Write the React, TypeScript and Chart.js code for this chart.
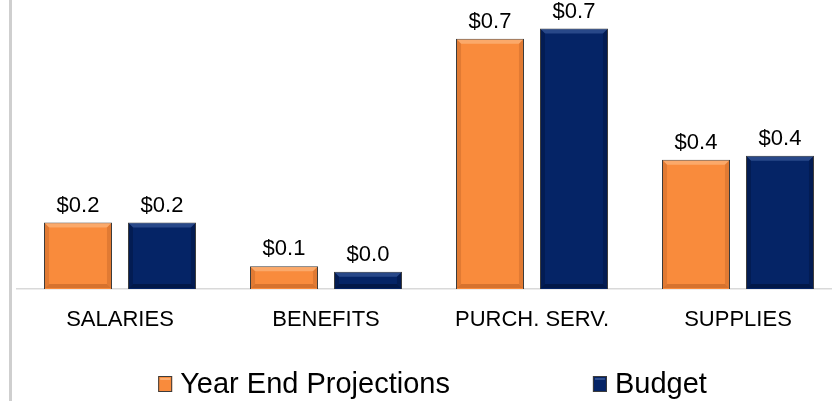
import { useEffect, useRef } from "react";
import { Chart, registerables } from "chart.js";

Chart.register(...registerables);

const categories = ["SALARIES", "BENEFITS", "PURCH. SERV.", "SUPPLIES"];
const yearEndProjections = [0.184, 0.063, 0.693, 0.358];
const budget = [0.184, 0.048, 0.721, 0.369];
const seriesNames = ["Year End Projections", "Budget"];
const seriesColors = ["#F98B3C", "#052466"];
const bevelLight = ["#FCAE72", "#2F4F8F"];
const bevelDark = ["#C9692A", "#02143F"];

const FONT = '"Liberation Sans", Arial, sans-serif';

export default function App() {
  const canvasRef = useRef<HTMLCanvasElement | null>(null);

  useEffect(() => {
    const canvas = canvasRef.current;
    if (!canvas) return;

    const framePlugin = {
      id: "frame",
      beforeDraw(chart: any) {
        const ctx = chart.ctx;
        ctx.save();
        ctx.fillStyle = "#ffffff";
        ctx.fillRect(0, 0, chart.width, chart.height);
        ctx.fillStyle = "#cfcfcf";
        ctx.fillRect(9, 0, 3, chart.height);
        ctx.restore();
      },
    };

    const bevelPlugin = {
      id: "bevel",
      afterDatasetsDraw(chart: any) {
        const ctx = chart.ctx;
        ctx.save();
        chart.data.datasets.forEach((ds: any, i: number) => {
          const meta = chart.getDatasetMeta(i);
          meta.data.forEach((bar: any) => {
            const p = bar.getProps(["x", "y", "base", "width"], true);
            const l = p.x - p.width / 2 + 1;
            const r = p.x + p.width / 2 - 1;
            const t = p.y + 1;
            const b = p.base - 1;
            const h = b - t;
            const bw = Math.min(4, h / 3);
            ctx.fillStyle = bevelLight[i];
            ctx.globalAlpha = 0.85;
            ctx.beginPath();
            ctx.moveTo(l, t);
            ctx.lineTo(r, t);
            ctx.lineTo(r - bw, t + bw);
            ctx.lineTo(l + bw, t + bw);
            ctx.closePath();
            ctx.fill();
            ctx.fillStyle = bevelDark[i];
            ctx.globalAlpha = 0.5;
            ctx.beginPath();
            ctx.moveTo(l, t);
            ctx.lineTo(l + bw, t + bw);
            ctx.lineTo(l + bw, b - bw);
            ctx.lineTo(l, b);
            ctx.closePath();
            ctx.fill();
            ctx.beginPath();
            ctx.moveTo(r, t);
            ctx.lineTo(r - bw, t + bw);
            ctx.lineTo(r - bw, b - bw);
            ctx.lineTo(r, b);
            ctx.closePath();
            ctx.fill();
            ctx.globalAlpha = 0.75;
            ctx.beginPath();
            ctx.moveTo(l, b);
            ctx.lineTo(l + bw, b - bw);
            ctx.lineTo(r - bw, b - bw);
            ctx.lineTo(r, b);
            ctx.closePath();
            ctx.fill();
            ctx.globalAlpha = 1;
          });
        });
        ctx.font = `22px ${FONT}`;
        ctx.fillStyle = "#000000";
        ctx.textAlign = "center";
        ctx.textBaseline = "alphabetic";
        chart.data.datasets.forEach((ds: any, i: number) => {
          const meta = chart.getDatasetMeta(i);
          meta.data.forEach((bar: any, j: number) => {
            const v = ds.data[j] as number;
            ctx.fillText("$" + v.toFixed(1), bar.x, bar.y - 11);
          });
        });
        ctx.restore();
      },
    };

    const legendPlugin = {
      id: "customLegend",
      afterDraw(chart: any) {
        const ctx = chart.ctx;
        ctx.save();
        ctx.font = `29px ${FONT}`;
        ctx.textBaseline = "alphabetic";
        ctx.textAlign = "left";
        const y = 393;
        const gap = 143;
        const box = 14;
        const pad = 8;
        const widths = seriesNames.map((n) => box + pad + ctx.measureText(n).width);
        const total = widths.reduce((a, b) => a + b, 0) + gap * (seriesNames.length - 1);
        let x = 432.5 - total / 2;
        seriesNames.forEach((name, i) => {
          ctx.fillStyle = seriesColors[i];
          ctx.fillRect(x, y - 17, box, 16);
          ctx.fillStyle = bevelLight[i];
          ctx.fillRect(x + 2, y - 15, box - 4, 2);
          ctx.strokeStyle = "#3c3c3c";
          ctx.lineWidth = 1;
          ctx.strokeRect(x + 0.5, y - 16.5, box - 1, 15);
          ctx.fillStyle = "#000000";
          ctx.fillText(name, x + box + pad, y);
          x += widths[i] + gap;
        });
        ctx.restore();
      },
    };

    const chart = new Chart(canvas, {
      type: "bar",
      data: {
        labels: categories,
        datasets: [
          {
            label: seriesNames[0],
            data: yearEndProjections,
            backgroundColor: seriesColors[0],
            borderColor: "#3c3c3c",
            borderWidth: 1,
            categoryPercentage: 0.8155,
            barPercentage: 0.8095,
          },
          {
            label: seriesNames[1],
            data: budget,
            backgroundColor: seriesColors[1],
            borderColor: "#3c3c3c",
            borderWidth: 1,
            categoryPercentage: 0.8155,
            barPercentage: 0.8095,
          },
        ],
      },
      options: {
        animation: false,
        responsive: true,
        maintainAspectRatio: false,
        layout: { padding: { left: 17, right: 17, top: 0, bottom: 0 } },
        scales: {
          x: {
            grid: { display: false, drawTicks: false },
            border: { display: true, color: "#d9d9d9", width: 1.5 },
            ticks: {
              font: { family: FONT, size: 22 },
              color: "#000000",
              padding: 18,
            },
            afterFit: (scale: any) => {
              scale.height = 112;
            },
          },
          y: { display: false, min: 0, max: 0.8 },
        },
        plugins: {
          legend: { display: false },
          tooltip: { enabled: false },
        },
      },
      plugins: [framePlugin, bevelPlugin, legendPlugin],
    });

    return () => chart.destroy();
  }, []);

  return (
    <div
      style={{
        position: "fixed",
        left: 0,
        top: 0,
        width: 832,
        height: 401,
        overflow: "hidden",
        background: "#ffffff",
      }}
    >
      <div style={{ position: "relative", width: 858, height: 401 }}>
        <canvas ref={canvasRef} />
      </div>
    </div>
  );
}
